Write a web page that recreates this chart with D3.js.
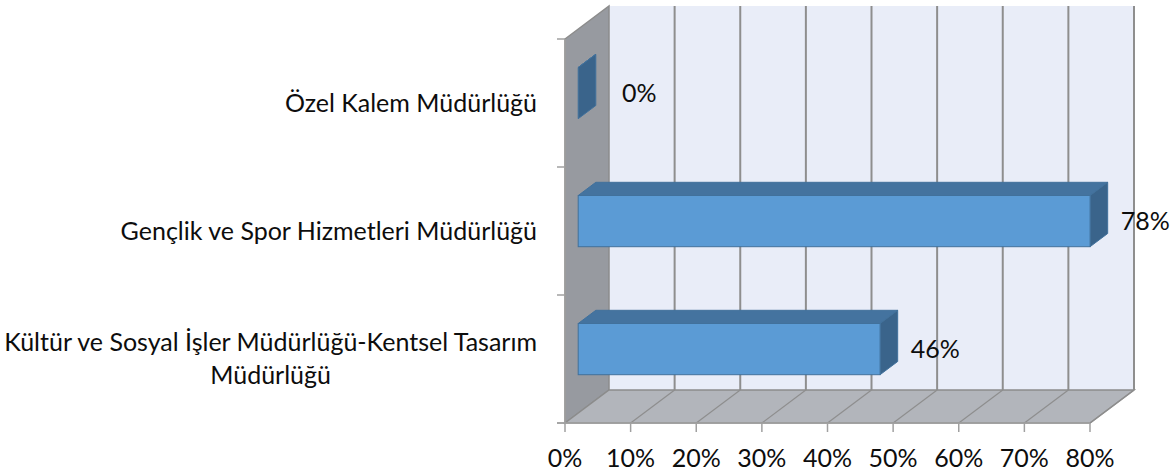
<!DOCTYPE html>
<html>
<head>
<meta charset="utf-8">
<script src="https://cdn.jsdelivr.net/npm/d3@7"></script>
<style>
  body { margin: 0; background: #fff; }
  text { font-family: Lato, "Open Sans", sans-serif; fill: #0d0d0d; }
</style>
</head>
<body>
<svg id="chart" width="1174" height="473"></svg>
<script>
// data, top to bottom as shown
const categories = [
  ["Özel Kalem Müdürlüğü"],
  ["Gençlik ve Spor Hizmetleri Müdürlüğü"],
  ["Kültür ve Sosyal İşler Müdürlüğü-Kentsel Tasarım", "Müdürlüğü"],
];
const values = [0, 78, 46];
const valueLabels = ["0%", "78%", "46%"];
const ticks = [0, 10, 20, 30, 40, 50, 60, 70, 80];

const svg = d3.select("#chart");

const DX = 44; // depth offset of the 3d box
const DY = 33;
const plotTop = 39;
const plotBottom = 423;

const xScale = d3.scaleLinear().domain([0, 80]).range([565, 1090]);
const yScale = d3
  .scaleBand()
  .domain(d3.range(categories.length))
  .range([plotTop, plotBottom])
  .paddingInner(0.6)
  .paddingOuter(0.3);

// projection: value, front-y, depth (0 = front, 1 = back)
const px = (v, z) => xScale(v) + z * DX;
const py = (y, z) => y - z * DY;
const poly = (pts) => "M" + pts.map((p) => p.join(",")).join("L") + "Z";

const x0 = xScale(0);
const x1 = xScale(80);

// back wall
svg
  .append("rect")
  .attr("x", px(0, 1))
  .attr("y", py(plotTop, 1))
  .attr("width", x1 - x0)
  .attr("height", plotBottom - plotTop)
  .attr("fill", "#e9edf8");

// side wall
svg
  .append("path")
  .attr("d", poly([[x0, plotTop], [x0 + DX, plotTop - DY], [x0 + DX, plotBottom - DY], [x0, plotBottom]]))
  .attr("fill", "#979aa0")
  .attr("stroke", "#8c8c8c")
  .attr("stroke-width", 1.5);

// floor
svg
  .append("path")
  .attr("d", poly([[x0, plotBottom], [x0 + DX, plotBottom - DY], [x1 + DX, plotBottom - DY], [x1, plotBottom]]))
  .attr("fill", "#b2b5bb")
  .attr("stroke", "#8c8c8c")
  .attr("stroke-width", 1.5);

// grid lines on back wall and floor
const grid = svg.append("g").attr("stroke", "#8e8e8e").attr("stroke-width", 2);
grid
  .selectAll(".gback")
  .data(ticks.slice(1))
  .enter()
  .append("line")
  .attr("x1", (d) => px(d, 1))
  .attr("x2", (d) => px(d, 1))
  .attr("y1", py(plotTop, 1))
  .attr("y2", py(plotBottom, 1));
grid
  .selectAll(".gfloor")
  .data(ticks.slice(1))
  .enter()
  .append("line")
  .attr("stroke-width", 1.2)
  .attr("x1", (d) => px(d, 1))
  .attr("x2", (d) => px(d, 0))
  .attr("y1", py(plotBottom, 1))
  .attr("y2", plotBottom);

// axes
const axes = svg.append("g").attr("stroke", "#a0a0a0").attr("stroke-width", 1.5);
axes.append("line").attr("x1", x0).attr("x2", x0).attr("y1", plotTop).attr("y2", plotBottom);
axes.append("line").attr("x1", x0 - 8).attr("x2", x1).attr("y1", plotBottom).attr("y2", plotBottom);
axes
  .selectAll(".ytick")
  .data(d3.range(categories.length + 1))
  .enter()
  .append("line")
  .attr("x1", x0 - 8)
  .attr("x2", x0)
  .attr("y1", (d) => plotTop + (d * (plotBottom - plotTop)) / categories.length)
  .attr("y2", (d) => plotTop + (d * (plotBottom - plotTop)) / categories.length);
axes
  .selectAll(".xtick")
  .data(ticks)
  .enter()
  .append("line")
  .attr("x1", (d) => xScale(d))
  .attr("x2", (d) => xScale(d))
  .attr("y1", plotBottom)
  .attr("y2", plotBottom + 9);

svg
  .selectAll(".xlabel")
  .data(ticks)
  .enter()
  .append("text")
  .attr("x", (d) => xScale(d))
  .attr("y", 467)
  .attr("text-anchor", "middle")
  .style("font-size", "25px")
  .text((d) => d + "%");

// bars
const z0 = 0.3;
const z1 = 0.7;
const bars = svg
  .selectAll(".bar")
  .data(values)
  .enter()
  .append("g")
  .attr("stroke", "#41719c")
  .attr("stroke-width", 1);

bars.each(function (v, i) {
  const g = d3.select(this);
  const yt = yScale(i);
  const yb = yt + yScale.bandwidth();
  g.append("path")
    .attr("fill", "#44739f")
    .attr("d", poly([[px(0, z0), py(yt, z0)], [px(v, z0), py(yt, z0)], [px(v, z1), py(yt, z1)], [px(0, z1), py(yt, z1)]]));
  g.append("path")
    .attr("fill", "#3a648b")
    .attr("d", poly([[px(v, z0), py(yt, z0)], [px(v, z1), py(yt, z1)], [px(v, z1), py(yb, z1)], [px(v, z0), py(yb, z0)]]));
  g.append("rect")
    .attr("fill", "#5b9bd5")
    .attr("x", px(0, z0))
    .attr("y", py(yt, z0))
    .attr("width", px(v, z0) - px(0, z0))
    .attr("height", yb - yt);
});

// value labels
svg
  .selectAll(".vlabel")
  .data(values)
  .enter()
  .append("text")
  .attr("x", (d) => Math.max(px(d, z1), px(0, 1)) + 13)
  .attr("y", (d, i) => py(yScale(i) + yScale.bandwidth() / 2, z0))
  .attr("dy", "0.35em")
  .style("font-size", "25px")
  .text((d, i) => valueLabels[i]);

// category labels
const lineH = 33;
categories.forEach((lines, i) => {
  const cy = plotTop + ((i + 0.5) * (plotBottom - plotTop)) / categories.length;
  const t = svg
    .append("text")
    .attr("text-anchor", "middle")
    .style("font-size", "25px");
  lines.forEach((s, j) => {
    t.append("tspan")
      .attr("x", 0)
      .attr("y", cy + (j - (lines.length - 1) / 2) * lineH)
      .attr("dy", "0.35em")
      .text(s);
  });
  const w = t.node().getBBox().width;
  t.attr("transform", `translate(${537 - w / 2},0)`);
});
</script>
</body>
</html>
